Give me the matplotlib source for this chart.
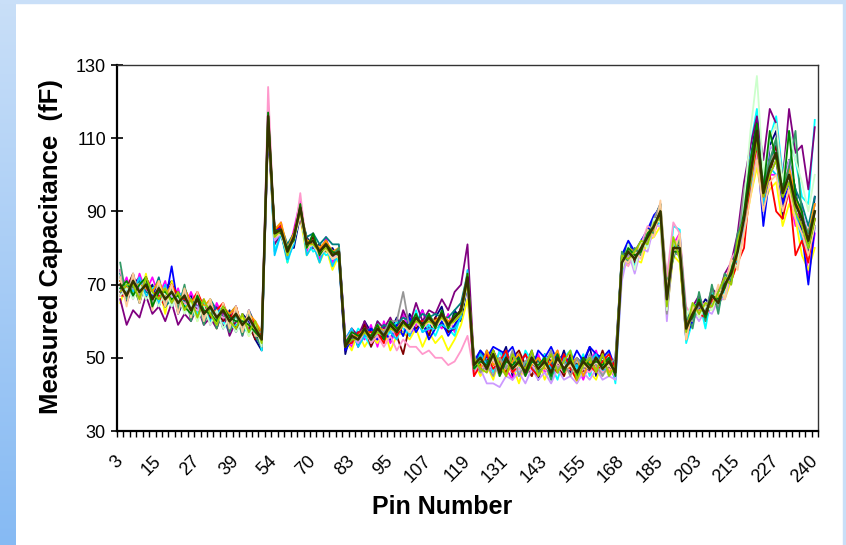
# Measured capacitance per pin, one line per test run (Excel style line chart)
import numpy as np
import matplotlib.pyplot as plt
from matplotlib.colors import LinearSegmentedColormap

plt.rcParams['font.family'] = ['Liberation Sans', 'DejaVu Sans']

# pin numbers (x categories), a label is shown on every 6th one
pins = [3, 5, 7, 9, 11, 13, 15, 17, 19, 21, 23, 25, 27, 29, 31, 33, 35, 37, 39,
        41, 44, 46, 49, 51, 54, 57, 59, 62, 65, 67, 70, 72, 74, 76, 78, 81, 83,
        85, 87, 89, 91, 93, 95, 97, 99, 101, 103, 105, 107, 109, 111, 113, 115,
        117, 119, 121, 123, 125, 127, 129, 131, 133, 135, 137, 139, 141, 143,
        145, 147, 149, 151, 153, 155, 157, 159, 161, 163, 166, 168, 171, 174,
        177, 180, 183, 185, 188, 191, 194, 197, 200, 203, 205, 207, 209, 211,
        213, 215, 217, 219, 221, 223, 225, 227, 229, 231, 233, 235, 238, 240]

# measured capacitance (fF), one list per run
run01 = [74, 65, 70, 72, 66, 70, 64, 69, 71, 62, 66, 67, 61, 65, 60, 64, 58, 63, 57, 62, 60, 55, 52,
         114,
         86, 83, 81, 80, 89, 83, 80, 81, 79, 80, 77,
         51, 58, 53, 60, 57, 55, 59, 57, 61, 56, 62, 59, 63, 58, 61, 64, 57, 63, 60,
         70,
         50, 46, 52, 48, 49, 53, 45, 51, 48, 52, 44, 51, 49, 47, 52, 46, 50, 48, 53, 45, 51, 47, 50,
         78, 81, 76, 82, 84, 88, 92, 63, 82, 78,
         55, 64, 63, 66, 64, 69, 68, 75, 82,
         91, 104, 116, 90, 108, 112, 88, 104, 96, 84, 78, 94]
run02 = [68, 72, 66, 73, 68, 72, 67, 71, 64, 69, 63, 68, 64, 66, 59, 65, 61, 58, 64, 56, 63, 59, 57,
         118,
         82, 87, 78, 85, 93, 79, 84, 77, 83, 76, 80,
         56, 53, 57, 55, 59, 53, 60, 54, 58, 62, 56, 59, 63, 57, 60, 58, 62, 57, 64,
         70,
         45, 51, 49, 46, 52, 47, 44, 50, 48, 45, 51, 46, 48, 52, 45, 50, 48, 44, 49, 52, 46, 48, 44,
         74, 77, 80, 78, 83, 84, 89, 68, 81, 84,
         60, 59, 67, 60, 65, 68, 67, 72, 78,
         86, 96, 110, 98, 100, 100, 98, 94, 86, 92, 72, 84]
run03 = [65, 70, 68, 66, 73, 64, 70, 62, 71, 66, 63, 65, 60, 66, 62, 58, 64, 57, 60, 61, 56, 59, 53,
         112,
         81, 85, 76, 84, 88, 78, 81, 76, 80, 74, 78,
         55, 52, 57, 53, 56, 54, 58, 52, 56, 57, 55, 58, 53, 57, 54, 56, 52, 55, 59,
         66,
         49, 45, 48, 44, 50, 46, 48, 43, 49, 45, 50, 44, 48, 46, 45, 49, 43, 47, 46, 44, 49, 45, 47,
         74, 76, 77, 76, 82, 83, 86, 62, 78, 76,
         56, 61, 62, 64, 63, 66, 66, 71, 76,
         84, 94, 102, 92, 96, 98, 86, 92, 88, 78, 74, 80]
run04 = [72, 68, 67, 70, 66, 69, 70, 64, 68, 66, 64, 66, 62, 65, 61, 62, 60, 57, 62, 58, 57, 60, 52,
         116,
         79, 84, 76, 82, 89, 82, 79, 80, 78, 79, 76,
         55, 54, 58, 56, 53, 60, 55, 57, 60, 58, 56, 63, 57, 59, 56, 60, 58, 56, 62,
         71,
         50, 48, 51, 46, 52, 48, 50, 45, 52, 49, 46, 51, 48, 44, 50, 52, 47, 51, 45, 50, 46, 52, 43,
         73, 80, 76, 81, 82, 87, 88, 67, 86, 85,
         54, 60, 66, 58, 68, 63, 72, 72, 81,
         92, 108, 118, 94, 110, 116, 100, 112, 104, 94, 92, 115]
run05 = [66, 59, 63, 61, 67, 62, 64, 60, 65, 59, 62, 60, 64, 59, 61, 58, 63, 56, 60, 59, 58, 56, 54,
         113,
         81, 84, 77, 83, 88, 81, 80, 79, 82, 77, 80,
         55, 58, 56, 60, 55, 60, 58, 61, 57, 63, 59, 65, 60, 63, 62, 66, 63, 68, 70,
         81,
         49, 51, 46, 52, 47, 51, 46, 50, 47, 51, 46, 50, 47, 51, 46, 50, 45, 50, 46, 51, 46, 50, 45,
         77, 78, 78, 79, 84, 85, 91, 64, 79, 78,
         60, 64, 67, 62, 69, 67, 73, 76, 84,
         98, 108, 116, 104, 118, 114, 98, 118, 106, 108, 96, 113]
run06 = [71, 69, 73, 65, 72, 68, 66, 68, 70, 64, 69, 65, 63, 64, 61, 63, 60, 62, 58, 60, 59, 55, 56,
         115,
         85, 84, 80, 84, 92, 80, 83, 78, 82, 77, 80,
         52, 57, 54, 59, 53, 57, 55, 60, 56, 51, 59, 58, 60, 56, 61, 59, 57, 58, 64,
         72,
         50, 47, 49, 52, 48, 46, 50, 52, 48, 45, 50, 47, 51, 48, 45, 51, 48, 46, 50, 47, 52, 47, 48,
         77, 80, 76, 79, 84, 85, 91, 65, 79, 81,
         57, 60, 66, 64, 65, 67, 68, 75, 78,
         90, 98, 114, 92, 100, 108, 92, 104, 90, 86, 84, 92]
run07 = [73, 66, 69, 71, 68, 67, 72, 64, 66, 68, 65, 66, 64, 60, 66, 63, 61, 62, 64, 57, 63, 59, 57,
         117,
         83, 86, 81, 84, 90, 83, 84, 81, 83, 81, 81,
         55, 55, 57, 57, 58, 57, 59, 58, 59, 61, 60, 60, 62, 61, 62, 61, 61, 63, 65,
         73,
         47, 52, 49, 50, 48, 51, 49, 48, 48, 51, 49, 48, 48, 51, 49, 48, 48, 50, 49, 51, 49, 48, 48,
         78, 81, 79, 80, 85, 88, 92, 68, 80, 82,
         60, 64, 65, 64, 67, 67, 70, 75, 79,
         92, 104, 110, 98, 102, 110, 98, 104, 96, 92, 86, 94]
run08 = [68, 66, 72, 67, 71, 67, 70, 65, 75, 64, 68, 62, 67, 61, 65, 62, 64, 59, 64, 57, 62, 56, 53,
         112,
         84, 86, 78, 83, 90, 81, 81, 79, 80, 78, 78,
         52, 55, 57, 56, 58, 55, 57, 55, 59, 56, 61, 57, 60, 55, 58, 60, 56, 59, 62,
         70,
         49, 52, 50, 53, 52, 51, 53, 48, 51, 47, 52, 50, 53, 49, 51, 48, 52, 49, 53, 51, 50, 52, 47,
         78, 82, 79, 82, 85, 89, 91, 64, 79, 78,
         56, 60, 64, 62, 66, 64, 69, 73, 80,
         88, 100, 108, 86, 100, 104, 92, 98, 90, 84, 70, 86]
run09 = [69, 70, 68, 72, 67, 68, 65, 70, 64, 67, 68, 61, 63, 64, 60, 62, 64, 58, 59, 60, 57, 59, 54,
         119,
         78, 84, 77, 81, 91, 78, 81, 76, 81, 75, 79,
         55, 58, 53, 56, 56, 56, 57, 57, 55, 60, 56, 61, 57, 58, 58, 59, 58, 58, 61,
         74,
         46, 51, 48, 49, 45, 52, 46, 47, 49, 48, 45, 50, 47, 46, 50, 47, 48, 45, 49, 51, 46, 48, 47,
         74, 79, 75, 80, 81, 86, 87, 68, 81, 80,
         56, 62, 63, 62, 65, 65, 68, 73, 77,
         86, 96, 106, 92, 102, 100, 96, 98, 90, 82, 80, 86]
run10 = [74, 66, 72, 67, 70, 68, 67, 69, 66, 66, 65, 64, 63, 63, 62, 62, 61, 61, 60, 60, 59, 58, 54,
         124,
         83, 84, 79, 82, 95, 80, 81, 79, 80, 77, 78,
         55, 57, 55, 58, 54, 56, 53, 56, 52, 55, 53, 53, 51, 52, 50, 50, 48, 49, 52,
         56,
         46, 48, 46, 49, 45, 48, 46, 47, 45, 48, 46, 47, 45, 48, 46, 47, 45, 47, 46, 48, 46, 47, 45,
         78, 75, 79, 81, 86, 85, 90, 72, 87, 84,
         64, 61, 66, 64, 66, 69, 70, 77, 80,
         87, 98, 106, 94, 100, 104, 94, 98, 92, 88, 82, 90]
run11 = [70, 68, 69, 69, 71, 65, 70, 67, 67, 63, 68, 64, 64, 60, 65, 59, 64, 58, 63, 57, 61, 56, 56,
         116,
         82, 84, 79, 82, 90, 80, 81, 78, 80, 77, 79,
         53, 56, 54, 57, 55, 57, 56, 58, 56, 59, 57, 60, 58, 60, 58, 61, 58, 60, 62,
         71,
         46, 47, 43, 43, 42, 45, 44, 46, 43, 47, 44, 46, 43, 47, 44, 45, 43, 46, 44, 47, 44, 45, 44,
         71, 79, 73, 80, 79, 86, 86, 60, 82, 79,
         55, 63, 60, 63, 62, 66, 66, 73, 75,
         88, 104, 112, 98, 108, 106, 96, 104, 94, 90, 84, 92]
run12 = [67, 67, 72, 66, 72, 68, 67, 64, 70, 67, 66, 65, 68, 64, 62, 63, 65, 60, 64, 58, 62, 59, 56,
         115,
         85, 86, 78, 84, 89, 82, 81, 80, 80, 79, 78,
         54, 54, 57, 57, 57, 57, 54, 60, 56, 59, 59, 60, 60, 60, 60, 61, 60, 60, 62,
         72,
         45, 48, 51, 47, 49, 52, 46, 48, 51, 47, 45, 50, 48, 46, 51, 47, 44, 50, 48, 46, 49, 51, 47,
         76, 79, 77, 80, 83, 86, 89, 66, 80, 80,
         58, 64, 62, 61, 66, 64, 70, 71, 76,
         80, 98, 108, 94, 100, 90, 88, 96, 78, 82, 76, 88]
run13 = [71, 69, 70, 70, 69, 68, 71, 67, 70, 64, 69, 65, 67, 64, 66, 60, 64, 62, 64, 58, 62, 60, 57,
         116,
         85, 87, 80, 84, 91, 82, 82, 80, 82, 79, 80,
         54, 56, 56, 58, 56, 59, 57, 59, 58, 60, 58, 61, 59, 61, 60, 62, 60, 61, 63,
         73,
         49, 47, 52, 48, 50, 45, 49, 51, 46, 48, 50, 47, 49, 52, 46, 48, 50, 45, 49, 47, 51, 46, 48,
         74, 80, 79, 81, 82, 85, 89, 68, 82, 81,
         55, 63, 63, 64, 64, 67, 69, 76, 77,
         90, 100, 110, 96, 104, 106, 96, 102, 94, 88, 84, 92]
run14 = [72, 67, 73, 67, 72, 65, 70, 65, 69, 64, 68, 62, 67, 61, 65, 60, 64, 59, 63, 58, 62, 57, 57,
         117,
         84, 85, 80, 83, 91, 81, 82, 79, 81, 78, 79,
         53, 56, 55, 58, 55, 58, 57, 60, 60, 68, 58, 61, 59, 61, 59, 62, 59, 61, 63,
         72,
         51, 46, 48, 45, 50, 47, 52, 45, 49, 51, 46, 48, 52, 47, 49, 45, 50, 47, 51, 48, 45, 48, 50,
         77, 78, 79, 79, 82, 88, 92, 62, 79, 78,
         61, 60, 64, 63, 69, 64, 72, 70, 81,
         96, 104, 112, 98, 104, 106, 95, 100, 92, 88, 82, 90]
run15 = [76, 66, 70, 65, 71, 64, 70, 64, 69, 63, 70, 60, 67, 59, 64, 58, 64, 57, 62, 56, 62, 56, 53,
         116,
         84, 85, 79, 83, 91, 81, 82, 79, 81, 78, 80,
         53, 56, 55, 58, 55, 58, 56, 59, 57, 60, 58, 61, 59, 62, 59, 62, 59, 61, 63,
         72,
         48, 50, 47, 51, 46, 50, 47, 49, 46, 50, 46, 49, 44, 50, 47, 49, 46, 49, 47, 50, 47, 49, 46,
         79, 76, 80, 78, 85, 84, 92, 70, 77, 83,
         62, 58, 68, 60, 70, 62, 73, 71, 84,
         88, 102, 108, 96, 104, 110, 96, 102, 112, 88, 84, 90]
run16 = [67, 69, 66, 70, 66, 68, 64, 68, 64, 67, 62, 65, 60, 64, 59, 63, 58, 61, 57, 60, 56, 59, 53,
         114,
         83, 84, 78, 82, 89, 80, 81, 78, 80, 77, 78,
         54, 56, 55, 57, 55, 57, 56, 58, 57, 59, 57, 60, 58, 60, 58, 61, 58, 60, 62,
         70,
         48, 49, 47, 50, 46, 49, 47, 48, 46, 49, 47, 48, 46, 49, 47, 48, 46, 48, 47, 49, 47, 48, 46,
         74, 81, 74, 82, 80, 88, 87, 63, 83, 77,
         61, 65, 61, 64, 63, 68, 67, 76, 75,
         92, 112, 127, 100, 110, 114, 98, 112, 104, 98, 90, 100]
run17 = [72, 64, 73, 65, 72, 63, 71, 64, 70, 62, 69, 61, 68, 60, 66, 59, 65, 58, 64, 57, 63, 56, 56,
         115,
         83, 84, 79, 82, 90, 80, 81, 78, 80, 77, 78,
         54, 56, 55, 57, 55, 58, 56, 58, 57, 59, 57, 60, 58, 60, 58, 61, 58, 60, 62,
         71,
         47, 49, 47, 50, 46, 49, 47, 48, 46, 49, 47, 48, 46, 49, 47, 48, 46, 48, 47, 49, 47, 48, 46,
         77, 76, 79, 77, 85, 83, 93, 69, 78, 84,
         55, 64, 62, 65, 64, 70, 66, 77, 74,
         84, 94, 104, 90, 98, 100, 90, 96, 88, 84, 78, 86]
run18 = [69, 71, 67, 70, 72, 64, 68, 68, 66, 67, 64, 62, 67, 63, 62, 60, 64, 61, 60, 60, 59, 57, 55,
         117,
         85, 84, 80, 82, 92, 80, 84, 78, 81, 79, 78,
         54, 57, 56, 57, 56, 59, 55, 60, 58, 59, 59, 62, 58, 62, 58, 63, 58, 62, 62,
         73,
         47, 49, 48, 52, 45, 49, 48, 50, 45, 49, 48, 50, 45, 51, 46, 50, 45, 50, 48, 49, 48, 50, 45,
         76, 80, 78, 79, 84, 86, 90, 67, 79, 79,
         59, 61, 66, 61, 67, 66, 69, 74, 80,
         90, 104, 114, 96, 112, 104, 94, 112, 94, 90, 80, 88]
run19 = [68, 70, 70, 66, 72, 68, 66, 69, 65, 68, 63, 66, 61, 66, 62, 59, 64, 60, 58, 62, 57, 60, 54,
         115,
         83, 85, 78, 83, 90, 81, 81, 79, 80, 78, 79,
         53, 55, 55, 57, 55, 57, 56, 58, 57, 59, 58, 60, 59, 60, 59, 61, 59, 60, 62,
         71,
         50, 47, 46, 52, 48, 45, 51, 48, 47, 52, 45, 48, 51, 46, 49, 52, 44, 48, 50, 46, 51, 45, 48,
         78, 77, 79, 82, 81, 87, 88, 64, 83, 77,
         57, 65, 62, 65, 64, 68, 72, 70, 82,
         88, 98, 110, 94, 100, 104, 94, 98, 90, 86, 80, 88]
run20 = [70, 67, 71, 68, 70, 66, 69, 66, 68, 65, 67, 63, 66, 62, 64, 61, 63, 60, 62, 59, 61, 58, 55,
         116,
         84, 85, 79, 83, 91, 81, 82, 79, 81, 78, 79,
         53, 56, 55, 58, 55, 58, 56, 59, 57, 60, 58, 61, 59, 61, 59, 62, 59, 61, 63,
         72,
         48, 50, 47, 51, 46, 50, 47, 49, 46, 50, 47, 49, 46, 50, 47, 49, 46, 49, 47, 50, 47, 49, 46,
         76, 79, 77, 80, 83, 86, 90, 66, 80, 80,
         58, 62, 65, 62, 67, 65, 70, 73, 79,
         88, 100, 112, 95, 102, 106, 95, 100, 92, 88, 82, 90]

runs = [run01, run02, run03, run04, run05, run06, run07, run08, run09, run10,
        run11, run12, run13, run14, run15, run16, run17, run18, run19, run20]
colors = ['#000080', '#FF00FF', '#FFFF00', '#00FFFF', '#800080', '#800000',
          '#008080', '#0000FF', '#00CCFF', '#FF99CC', '#CC99FF', '#FF0000',
          '#FF9900', '#969696', '#339966', '#CCFFCC', '#FFCC99', '#008000',
          '#99CC00', '#333300']

W, H = 846, 545
fig = plt.figure(figsize=(W / 100, H / 100), dpi=100)
fig.patch.set_facecolor('white')

# blue slide border (left gradient + thin top/right strips)
band = fig.add_axes([0, 0, 16 / W, 1])
grad = LinearSegmentedColormap.from_list('slide', ['#c9dff8', '#86baf3'])
band.imshow(np.linspace(0, 1, 256).reshape(-1, 1), aspect='auto', cmap=grad)
band.axis('off')
fig.patches.append(plt.Rectangle((0, 1 - 3 / H), 1, 3 / H, transform=fig.transFigure,
                                 color='#c9dff8', zorder=0))
fig.patches.append(plt.Rectangle((1 - 3 / W, 0), 3 / W, 1, transform=fig.transFigure,
                                 color='#c9dff8', zorder=0))

ax = fig.add_axes([117 / W, (H - 431) / H, 701 / W, 366 / H])
x = np.arange(len(pins))
for vals, c in zip(runs, colors):
    lw = 1.8 if c == '#333300' else 1.3
    ax.plot(x, vals, color=c, lw=lw)

ax.set_xlim(-0.5, len(pins) - 0.5)
ax.set_ylim(30, 130)
ax.set_yticks(range(30, 131, 20))
ax.set_xticks(x[::6])
ax.set_xticklabels([str(p) for p in pins[::6]], rotation=45, ha='right', va='center',
                   rotation_mode='anchor', fontsize=13)
ax.set_xticks(np.arange(-0.5, len(pins), 1), minor=True)
ax.tick_params(axis='x', which='major', length=0, pad=20)
ax.tick_params(axis='x', which='minor', length=4.5, width=1, direction='out')
ax.tick_params(axis='y', direction='inout', length=8, width=1.2, labelsize=13, pad=4)

for s in ['left', 'bottom']:
    ax.spines[s].set_linewidth(1.6)
    ax.spines[s].set_color('black')
for s in ['top', 'right']:
    ax.spines[s].set_linewidth(1.0)
    ax.spines[s].set_color('#333333')

fig.text(51 / W, 1 - 247 / H, 'Measured Capacitance  (fF)', rotation=90, ha='center',
         va='center', fontsize=18.5, fontweight='bold')
fig.text(442 / W, 1 - 507 / H, 'Pin Number', ha='center', va='center',
         fontsize=18, fontweight='bold')

fig.savefig('out.png', dpi=100)
